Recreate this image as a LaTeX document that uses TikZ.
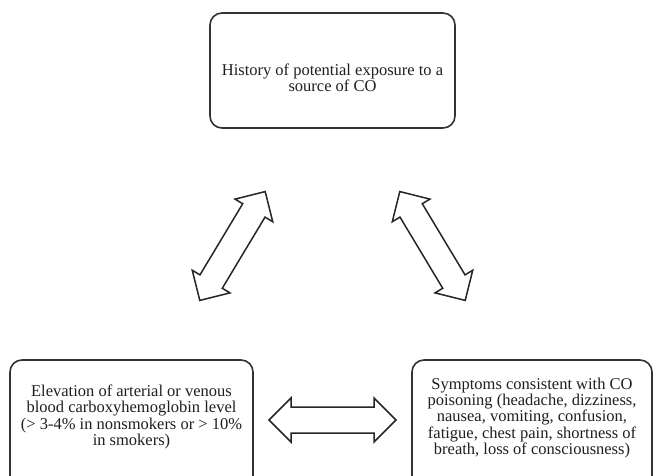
\documentclass[tikz,border=0pt]{standalone}
\usepackage{fontspec}
\setmainfont{Liberation Serif}
\begin{document}
\begin{tikzpicture}[x=1pt,y=-1pt,
  box/.style={draw=black!80, line width=1.6pt, rounded corners=12pt, fill=white, inner sep=0pt},
  txt/.style={align=center, font=\fontsize{16.5}{16.2}\selectfont, text=black!88},
  arrowshape/.style={draw=black!85, line width=1.5pt, fill=white, line join=miter},
  dblarr/.pic={\draw[arrowshape] (-63.5,0) -- (-41.5,-22) -- (-41.5,-13) -- (41.5,-13) -- (41.5,-22) -- (63.5,0) -- (41.5,22) -- (41.5,13) -- (-41.5,13) -- (-41.5,22) -- cycle;}]
\useasboundingbox (0,0) rectangle (653,476);
\node[box, minimum width=245pt, minimum height=115pt] (top) at (332.5,70.5) {};
\node[box, minimum width=243pt, minimum height=128pt] (left) at (131.5,424) {};
\node[box, minimum width=240pt, minimum height=128pt] (right) at (532,424) {};
\node[txt] (toptxt) at (332.5,78) {History of potential exposure to a\\source of CO};
\node[txt] (lefttxt) at (131.5,417) {Elevation of arterial or venous\\blood carboxyhemoglobin level\\(> 3-4\% in nonsmokers or > 10\%\\in smokers)};
\node[txt] (righttxt) at (532,418) {Symptoms consistent with CO\\poisoning (headache, dizziness,\\nausea, vomiting, confusion,\\fatigue, chest pain, shortness of\\breath, loss of consciousness)};
\pic[rotate=59] (a1) at (232.5,246) {dblarr};
\pic[rotate=121] (a2) at (432.5,246) {dblarr};
\pic (a3) at (332.5,420) {dblarr};
\end{tikzpicture}
\end{document}
